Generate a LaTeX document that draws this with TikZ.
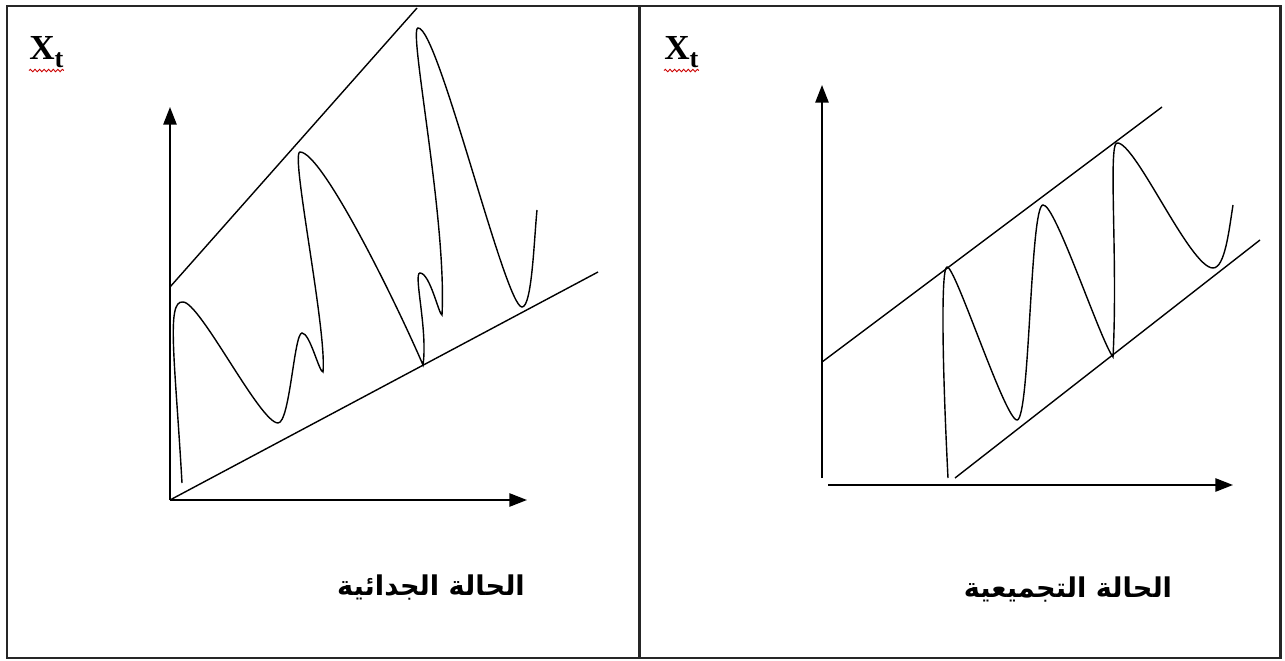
\documentclass[tikz,border=0pt]{standalone}
\usepackage{fontspec}
\newfontfamily\arabicfont[Script=Arabic]{DejaVu Sans}
\newfontfamily\xtfont{Liberation Serif}
\TeXXeTstate=1
\usetikzlibrary{arrows.meta,decorations.pathmorphing}

\begin{document}
\begin{tikzpicture}[x=0.02cm,y=0.02cm,
  axis/.style={line width=1.1pt,-{Triangle[length=10pt,width=7.5pt]}},
  bound/.style={line width=0.8pt},
  series/.style={line width=0.8pt},
  frameline/.style={line width=1.7pt,draw=black!85},
  spell/.style={red!80!black,line width=0.5pt,decorate,
    decoration={snake,amplitude=0.7pt,segment length=2.6pt}},
  caption/.style={font=\arabicfont\bfseries\fontsize{15.5}{20}\selectfont},
  xlab/.style={font=\xtfont\bfseries\fontsize{20}{22}\selectfont,anchor=base west,inner sep=0pt}]
  \useasboundingbox (0,0) rectangle (1285,660);
  % frame and divider
  \draw[frameline] (7,2) rectangle (1280,654);
  \draw[frameline] (639,2) -- (639,654);

  % left panel
  \node[xlab] (lxt) at (29,600) {X\raisebox{-4pt}{\fontsize{15}{15}\selectfont t}};
  \draw[spell] ([yshift=-6pt]lxt.base west) -- ([yshift=-6pt]lxt.base east);
  \coordinate (lo) at (170,160);
  \coordinate (ly) at (170,553);
  \coordinate (lx) at (527,160);
  \draw[axis] (lo) -- (ly);
  \draw[axis] (lo) -- (lx);
  \draw[bound] (lo) -- (598,388);
  \draw[bound] (170,373) -- (417,652);
  \draw[series] (182,177) .. controls (175,300) and (166,360) .. (183,358)
    .. controls (200,358) and (260,237) .. (278,237)
    .. controls (290,237) and (294,327) .. (302,327)
    .. controls (310,327) and (319,288) .. (323,288)
    .. controls (327,330) and (290,508) .. (300,508)
    .. controls (322,508) and (395,360) .. (423,295)
    .. controls (428,330) and (413,387) .. (420,387)
    .. controls (430,387) and (439,345) .. (442,345)
    .. controls (447,440) and (408,632) .. (418,632)
    .. controls (438,634) and (505,353) .. (522,353)
    .. controls (532,353) and (534,420) .. (537,450);
  \node[caption] (lcap) at (431,72) {\beginR الحالة الجدائية\endR};

  % right panel
  \node[xlab] (rxt) at (664,600) {X\raisebox{-4pt}{\fontsize{15}{15}\selectfont t}};
  \draw[spell] ([yshift=-6pt]rxt.base west) -- ([yshift=-6pt]rxt.base east);
  \coordinate (ryb) at (822,182);
  \coordinate (ryt) at (822,575);
  \coordinate (rxl) at (828,175);
  \coordinate (rxr) at (1233,175);
  \draw[axis] (ryb) -- (ryt);
  \draw[axis] (rxl) -- (rxr);
  \draw[bound] (822,298) -- (1162,553);
  \draw[bound] (955,182) -- (1260,420);
  \draw[series] (948,182) .. controls (942,300) and (941,393) .. (947,393)
    .. controls (955,395) and (1005,240) .. (1017,240)
    .. controls (1030,240) and (1030,455) .. (1043,455)
    .. controls (1055,457) and (1100,320) .. (1113,303)
    .. controls (1118,400) and (1108,517) .. (1117,517)
    .. controls (1135,519) and (1190,392) .. (1213,392)
    .. controls (1225,392) and (1229,430) .. (1233,455);
  \node[caption] (rcap) at (1068,70) {\beginR الحالة التجميعية\endR};
\end{tikzpicture}
\end{document}
